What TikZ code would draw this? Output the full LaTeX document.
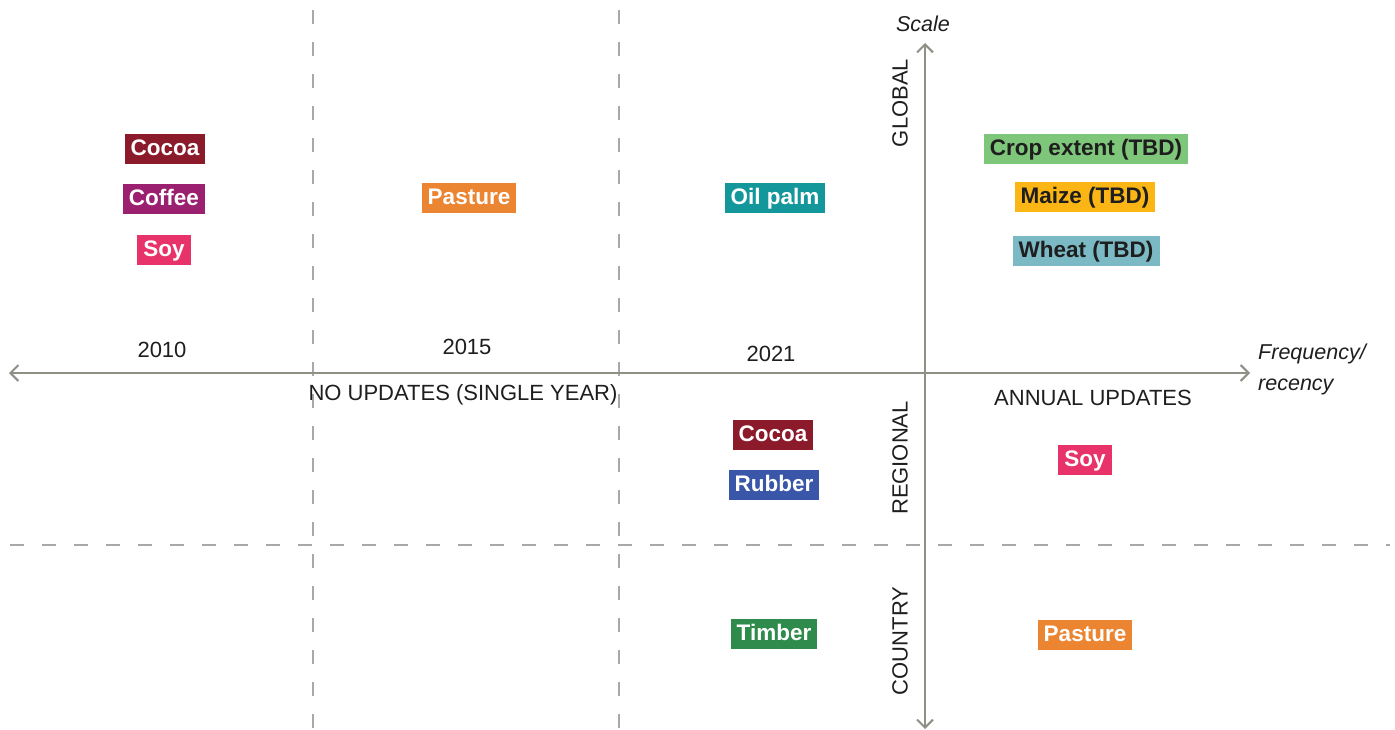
\documentclass[tikz,border=0pt]{standalone}
\usepackage{fontspec}
\setmainfont{Liberation Sans}
\usetikzlibrary{arrows.meta}
\definecolor{axisgray}{HTML}{8F8F85}
\definecolor{dashgray}{HTML}{A8A8A8}
\definecolor{cocoa}{HTML}{8B1A2B}
\definecolor{coffee}{HTML}{9B2170}
\definecolor{soy}{HTML}{E8336A}
\definecolor{pasture}{HTML}{EB8531}
\definecolor{oilpalm}{HTML}{13979A}
\definecolor{cropext}{HTML}{7EC67A}
\definecolor{maize}{HTML}{FBB615}
\definecolor{wheat}{HTML}{7BBAC5}
\definecolor{rubber}{HTML}{3A56A8}
\definecolor{timber}{HTML}{2E8B4B}
\definecolor{txt}{HTML}{1E1E1E}
\tikzset{
  tag/.style={fill=#1, text=white, font=\bfseries\fontsize{22.5}{26}\selectfont, inner xsep=6pt, inner ysep=0pt, minimum height=30pt, text height=17pt, text depth=4pt},
  darktag/.style={tag=#1, text=txt},
  axis/.style={draw=axisgray, line width=2pt},
  grid/.style={draw=dashgray, line width=1.3pt, dash pattern=on 14pt off 18pt},
  lbl/.style={text=txt, font=\fontsize{22}{26}\selectfont, inner sep=0pt},
  ital/.style={text=txt, font=\itshape\fontsize{21.5}{31}\selectfont, inner sep=0pt},
}
\begin{document}
\begin{tikzpicture}[x=1pt,y=-1pt]
\useasboundingbox (0,0) rectangle (1395,730);
% grid
\coordinate (v1t) at (313,10); \coordinate (v1b) at (313,730);
\coordinate (v2t) at (619,10); \coordinate (v2b) at (619,730);
\coordinate (hl) at (10,545); \coordinate (hr) at (1390,545);
\draw[grid] (v1t) -- (v1b);
\draw[grid] (v2t) -- (v2b);
\draw[grid] (hl) -- (hr);
% axes
\coordinate (xl) at (9,373); \coordinate (xr) at (1250,373);
\coordinate (yt) at (925,43); \coordinate (yb) at (925,729);
\draw[axis, {Straight Barb[length=8pt,width=16pt]}-{Straight Barb[length=8pt,width=16pt]}] (xl) -- (xr);
\draw[axis, {Straight Barb[length=8pt,width=16pt]}-{Straight Barb[length=8pt,width=16pt]}] (yt) -- (yb);
% axis labels
\node[ital] (scale) at (923,24) {Scale};
\node[ital, anchor=west, align=left] (freq) at (1258,369) {Frequency/\\recency};
\node[lbl, rotate=90] (global) at (900,103) {GLOBAL};
\node[lbl, rotate=90] (regional) at (900,458) {REGIONAL};
\node[lbl, rotate=90] (country) at (900,641) {COUNTRY};
\node[lbl] (y2010) at (162,350) {2010};
\node[lbl] (y2015) at (467,347) {2015};
\node[lbl] (y2021) at (771,354) {2021};
\node[lbl] (noupd) at (463,395) {NO UPDATES (SINGLE YEAR)};
\node[lbl] (annual) at (1093,398) {ANNUAL UPDATES};
% tags
\node[tag=cocoa] (cocoa1) at (165,149) {Cocoa};
\node[tag=coffee] (coffee) at (164,199) {Coffee};
\node[tag=soy] (soy1) at (164,250) {Soy};
\node[tag=pasture] (past1) at (469,198) {Pasture};
\node[tag=oilpalm] (oilp) at (775,198) {Oil palm};
\node[darktag=cropext] (crop) at (1086,149) {Crop extent (TBD)};
\node[darktag=maize] (maize) at (1085,197) {Maize (TBD)};
\node[darktag=wheat] (wheat) at (1086,251) {Wheat (TBD)};
\node[tag=cocoa] (cocoa2) at (773,435) {Cocoa};
\node[tag=rubber] (rubber) at (774,485) {Rubber};
\node[tag=soy] (soy2) at (1085,460) {Soy};
\node[tag=timber] (timber) at (774,634) {Timber};
\node[tag=pasture] (past2) at (1085,635) {Pasture};
\end{tikzpicture}
\end{document}
